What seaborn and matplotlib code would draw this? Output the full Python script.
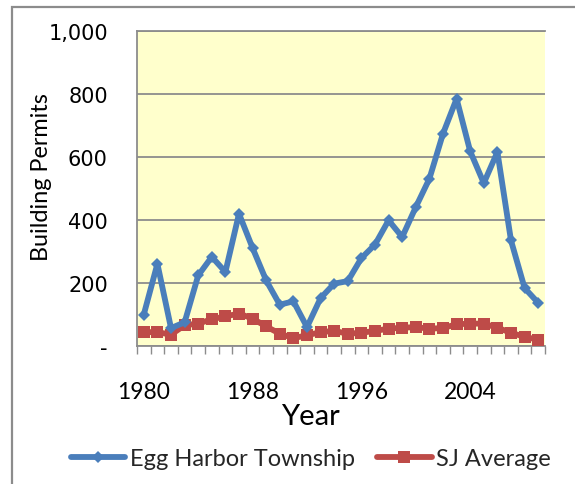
import matplotlib
matplotlib.use("Agg")
import matplotlib.pyplot as plt
from matplotlib.patches import Rectangle
from matplotlib.ticker import FixedLocator, FixedFormatter
import numpy as np
import pandas as pd
import seaborn as sns

years = list(range(1980, 2010))
egg_harbor = [100, 261, 57, 75, 224, 283, 235, 420, 311, 208,
              131, 142, 60, 152, 198, 206, 279, 322, 399, 346,
              441, 531, 674, 785, 618, 517, 616, 335, 184, 137]
sj_average = [44, 44, 36, 66, 71, 85, 94, 103, 87, 62,
              39, 25, 34, 44, 48, 39, 42, 48, 55, 58,
              60, 55, 57, 69, 71, 71, 58, 42, 29, 20]
series_names = ["Egg Harbor Township", "SJ Average"]
y_ticks = [0, 200, 400, 600, 800, 1000]
y_tick_labels = ["-", "200", "400", "600", "800", "1,000"]
x_label_years = [1980, 1988, 1996, 2004]

sns.set_theme(style="white")
plt.rcParams["font.family"] = ["Lato", "DejaVu Sans"]

W, H = 575, 485
fig = plt.figure(figsize=(W / 100, H / 100), dpi=100)
fig.patch.set_facecolor("white")
ax = fig.add_axes([137 / W, 1 - 347 / H, 408 / W, 315 / H])
ax.set_facecolor("#FFFFCC")

df = pd.DataFrame({"idx": np.arange(len(years)), "Year": years,
                   series_names[0]: egg_harbor, series_names[1]: sj_average})

blue = "#4A7EBB"
red = "#BE4B48"
sns.lineplot(data=df, x="idx", y=series_names[1], ax=ax, color=red, lw=4.2,
             marker="s", markersize=9, markeredgewidth=0, label=series_names[1], zorder=3)
sns.lineplot(data=df, x="idx", y=series_names[0], ax=ax, color=blue, lw=4.2,
             marker="D", markersize=6.5, markeredgewidth=0, label=series_names[0], zorder=4)

ax.set_xlim(-0.5, len(years) - 0.5)
ax.set_ylim(0, 1000)

# y axis
ax.set_yticks(y_ticks)
ax.set_yticklabels(y_tick_labels, family=["DejaVu Sans"])
ax.yaxis.grid(True, color="#8C8C8C", lw=1.3)
ax.set_axisbelow(True)
ax.tick_params(axis="y", which="major", length=4, width=1, color="#8C8C8C",
               labelsize=15, pad=17, labelcolor="black")
ax.set_ylabel("Building Permits", fontsize=16.8, color="black", va="center")
ax.yaxis.set_label_coords(-0.235, 0.541)

# x axis: category boundaries ticks, labels at category centers
pos = [years.index(y) for y in x_label_years]
ax.xaxis.set_major_locator(FixedLocator(pos))
ax.xaxis.set_major_formatter(FixedFormatter([str(y) for y in x_label_years]))
ax.xaxis.set_minor_locator(FixedLocator(np.arange(len(years) + 1) - 0.5))
ax.tick_params(axis="x", which="major", length=0, labelsize=16.5, pad=25.5, labelcolor="black")
ax.tick_params(axis="x", which="minor", length=6, width=1, color="#8C8C8C", bottom=True)
ax.set_xlabel("Year", fontsize=21, color="black", va="center")
ax.xaxis.set_label_coords(0.424, -0.222)

for s in ["left", "bottom", "top"]:
    ax.spines[s].set_visible(True)
    ax.spines[s].set_color("#8C8C8C")
    ax.spines[s].set_linewidth(1.3)
ax.spines["right"].set_visible(False)

h, l = ax.get_legend_handles_labels()
order = [l.index(series_names[0]), l.index(series_names[1])]
if ax.get_legend():
    ax.get_legend().remove()
leg = fig.legend([h[i] for i in order], [l[i] for i in order], loc="center",
                 bbox_to_anchor=(311 / W, 1 - 460 / H), ncol=2, frameon=False,
                 fontsize=17, handlelength=2.3, handletextpad=0.2, columnspacing=0.95,
                 borderpad=0, borderaxespad=0)

# outer chart border
fig.patches.append(Rectangle((12 / W, -0.2), 1.2, 1.2 - 8 / H, transform=fig.transFigure,
                             fill=False, edgecolor="#8C8C8C", lw=1.6, zorder=0))

fig.savefig("out.png", dpi=100)
